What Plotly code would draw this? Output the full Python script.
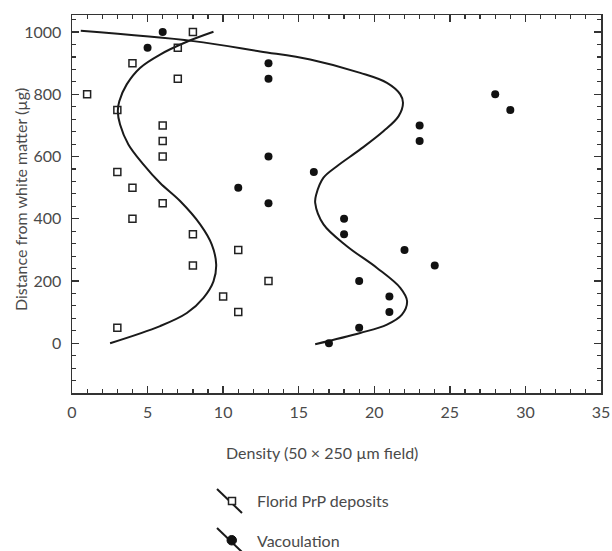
import plotly.graph_objects as go

# Florid PrP deposits (open squares)
florid_x = [8, 7, 4, 7, 1, 3, 6, 6, 6, 3, 4, 6, 4, 8, 11, 8, 13, 10, 11, 3]
florid_y = [1000, 950, 900, 850, 800, 750, 700, 650, 600, 550, 500, 450, 400, 350, 300, 250, 200, 150, 100, 50]

# Vacoulation (filled circles)
vac_x = [6, 5, 13, 13, 28, 29, 23, 23, 13, 16, 11, 13, 18, 18, 22, 24, 19, 21, 21, 19, 17]
vac_y = [1000, 950, 900, 850, 800, 750, 700, 650, 600, 550, 500, 450, 400, 350, 300, 250, 200, 150, 100, 50, 0]

# Fitted curves
florid_fit_x = [9.36, 7.60, 5.83, 4.50, 3.62, 3.13, 3.03, 3.18, 3.73, 4.72, 5.83, 7.15, 8.48, 9.25, 9.54, 9.36, 8.70, 7.60, 5.83, 2.52]
florid_fit_y = [1001, 969, 928, 885, 832, 778, 746, 703, 639, 575, 515, 457, 382, 317, 253, 199, 146, 97, 55, 0]

vac_fit_x = [0.58, 8.03, 12.45, 15.76, 19.07, 20.84, 21.72, 21.90, 21.61, 20.62, 19.07, 17.53, 16.64, 16.16, 16.09, 16.64, 18.19, 20.18, 21.72, 22.17, 21.83, 20.84, 19.07, 16.09]
vac_fit_y = [1004, 971, 938, 912, 869, 837, 800, 773, 730, 682, 623, 569, 532, 478, 451, 382, 312, 242, 178, 135, 92, 60, 33, -3]

x_ticks = [0, 5, 10, 15, 20, 25, 30, 35]
y_ticks = [0, 200, 400, 600, 800, 1000]
x_title = "Density (50 × 250 µm field)"
y_title = "Distance from white matter (µg)"
legend_labels = ["Florid PrP deposits", "Vacoulation"]

FONT = "Lato"
TXT = "#4a4a4a"
AX = "#333333"

W, H = 612, 551
# plot area in screen pixels
L, R, T, B = 72, 601, 15, 393
pw, ph = R - L, B - T

def px(xs):
    return (xs - L) / pw

def py(ys):
    return (B - ys) / ph

fig = go.Figure()
fig.add_trace(go.Scatter(x=florid_fit_x, y=florid_fit_y, mode="lines", line=dict(color="#1a1a1a", width=2, shape="spline", smoothing=1.0), showlegend=False, hoverinfo="skip"))
fig.add_trace(go.Scatter(x=vac_fit_x, y=vac_fit_y, mode="lines", line=dict(color="#1a1a1a", width=2, shape="spline", smoothing=1.0), showlegend=False, hoverinfo="skip"))
fig.add_trace(go.Scatter(x=florid_x, y=florid_y, mode="markers", name=legend_labels[0],
                         marker=dict(symbol="square-open", size=7, color="#222", line=dict(width=1.5, color="#222")), showlegend=False))
fig.add_trace(go.Scatter(x=vac_x, y=vac_y, mode="markers", name=legend_labels[1],
                         marker=dict(symbol="circle", size=8, color="#111"), showlegend=False))

# custom legend
shapes = []
annotations = []
for i, (cy, label) in enumerate(zip([501, 540], legend_labels)):
    shapes.append(dict(type="line", xref="paper", yref="paper",
                       x0=px(217), y0=py(cy - 12), x1=px(242), y1=py(cy + 12),
                       line=dict(color="#1a1a1a", width=2)))
    if i == 0:
        shapes.append(dict(type="rect", xref="paper", yref="paper",
                           x0=px(228.5), y0=py(cy - 3.5), x1=px(235.5), y1=py(cy + 3.5),
                           fillcolor="white", line=dict(color="#222", width=1.5)))
    else:
        shapes.append(dict(type="circle", xref="paper", yref="paper",
                           x0=px(227), y0=py(cy - 4.5), x1=px(236.5), y1=py(cy + 5),
                           fillcolor="#111", line=dict(color="#111", width=1)))
    annotations.append(dict(text=label, xref="paper", yref="paper", x=px(255), y=py(cy),
                            xanchor="left", yanchor="middle", showarrow=False,
                            font=dict(family=FONT, size=16, color=TXT)))

annotations.append(dict(text=x_title, xref="paper", yref="paper", x=px(322), y=py(452),
                        xanchor="center", yanchor="middle", showarrow=False,
                        font=dict(family=FONT, size=16, color=TXT)))
annotations.append(dict(text=y_title, xref="paper", yref="paper", x=px(20), y=py(200),
                        xanchor="center", yanchor="middle", showarrow=False, textangle=-90,
                        font=dict(family=FONT, size=16, color=TXT)))

axis_common = dict(showgrid=False, zeroline=False, showline=True, linecolor=AX, linewidth=1.5,
                   ticks="inside", ticklen=7, tickwidth=1.3, tickcolor=AX, mirror="ticks",
                   tickfont=dict(family=FONT, size=16, color=TXT))

fig.update_xaxes(range=[0, 35], tickvals=x_ticks, ticktext=[str(v) for v in x_ticks],
                 minor=dict(dtick=1, ticks="inside", ticklen=4, tickcolor=AX, tickwidth=1.2),
                 ticklabelstandoff=4, **axis_common)
fig.update_yaxes(range=[-160, 1055], tickvals=y_ticks, ticktext=[str(v) for v in y_ticks],
                 minor=dict(dtick=40, tick0=0, ticks="inside", ticklen=4, tickcolor=AX, tickwidth=1.2),
                 ticklabelstandoff=6, **axis_common)

fig.update_layout(width=W, height=H,
                  margin=dict(l=L, r=W - R, t=T, b=H - B, autoexpand=False),
                  plot_bgcolor="white", paper_bgcolor="white", shapes=shapes, annotations=annotations,
                  font=dict(family=FONT, color=TXT), showlegend=False, hovermode=False)

fig.write_html("out.html", config={"displayModeBar": False, "staticPlot": True},
               post_script="document.body.style.margin='0';document.body.style.overflow='hidden';")
